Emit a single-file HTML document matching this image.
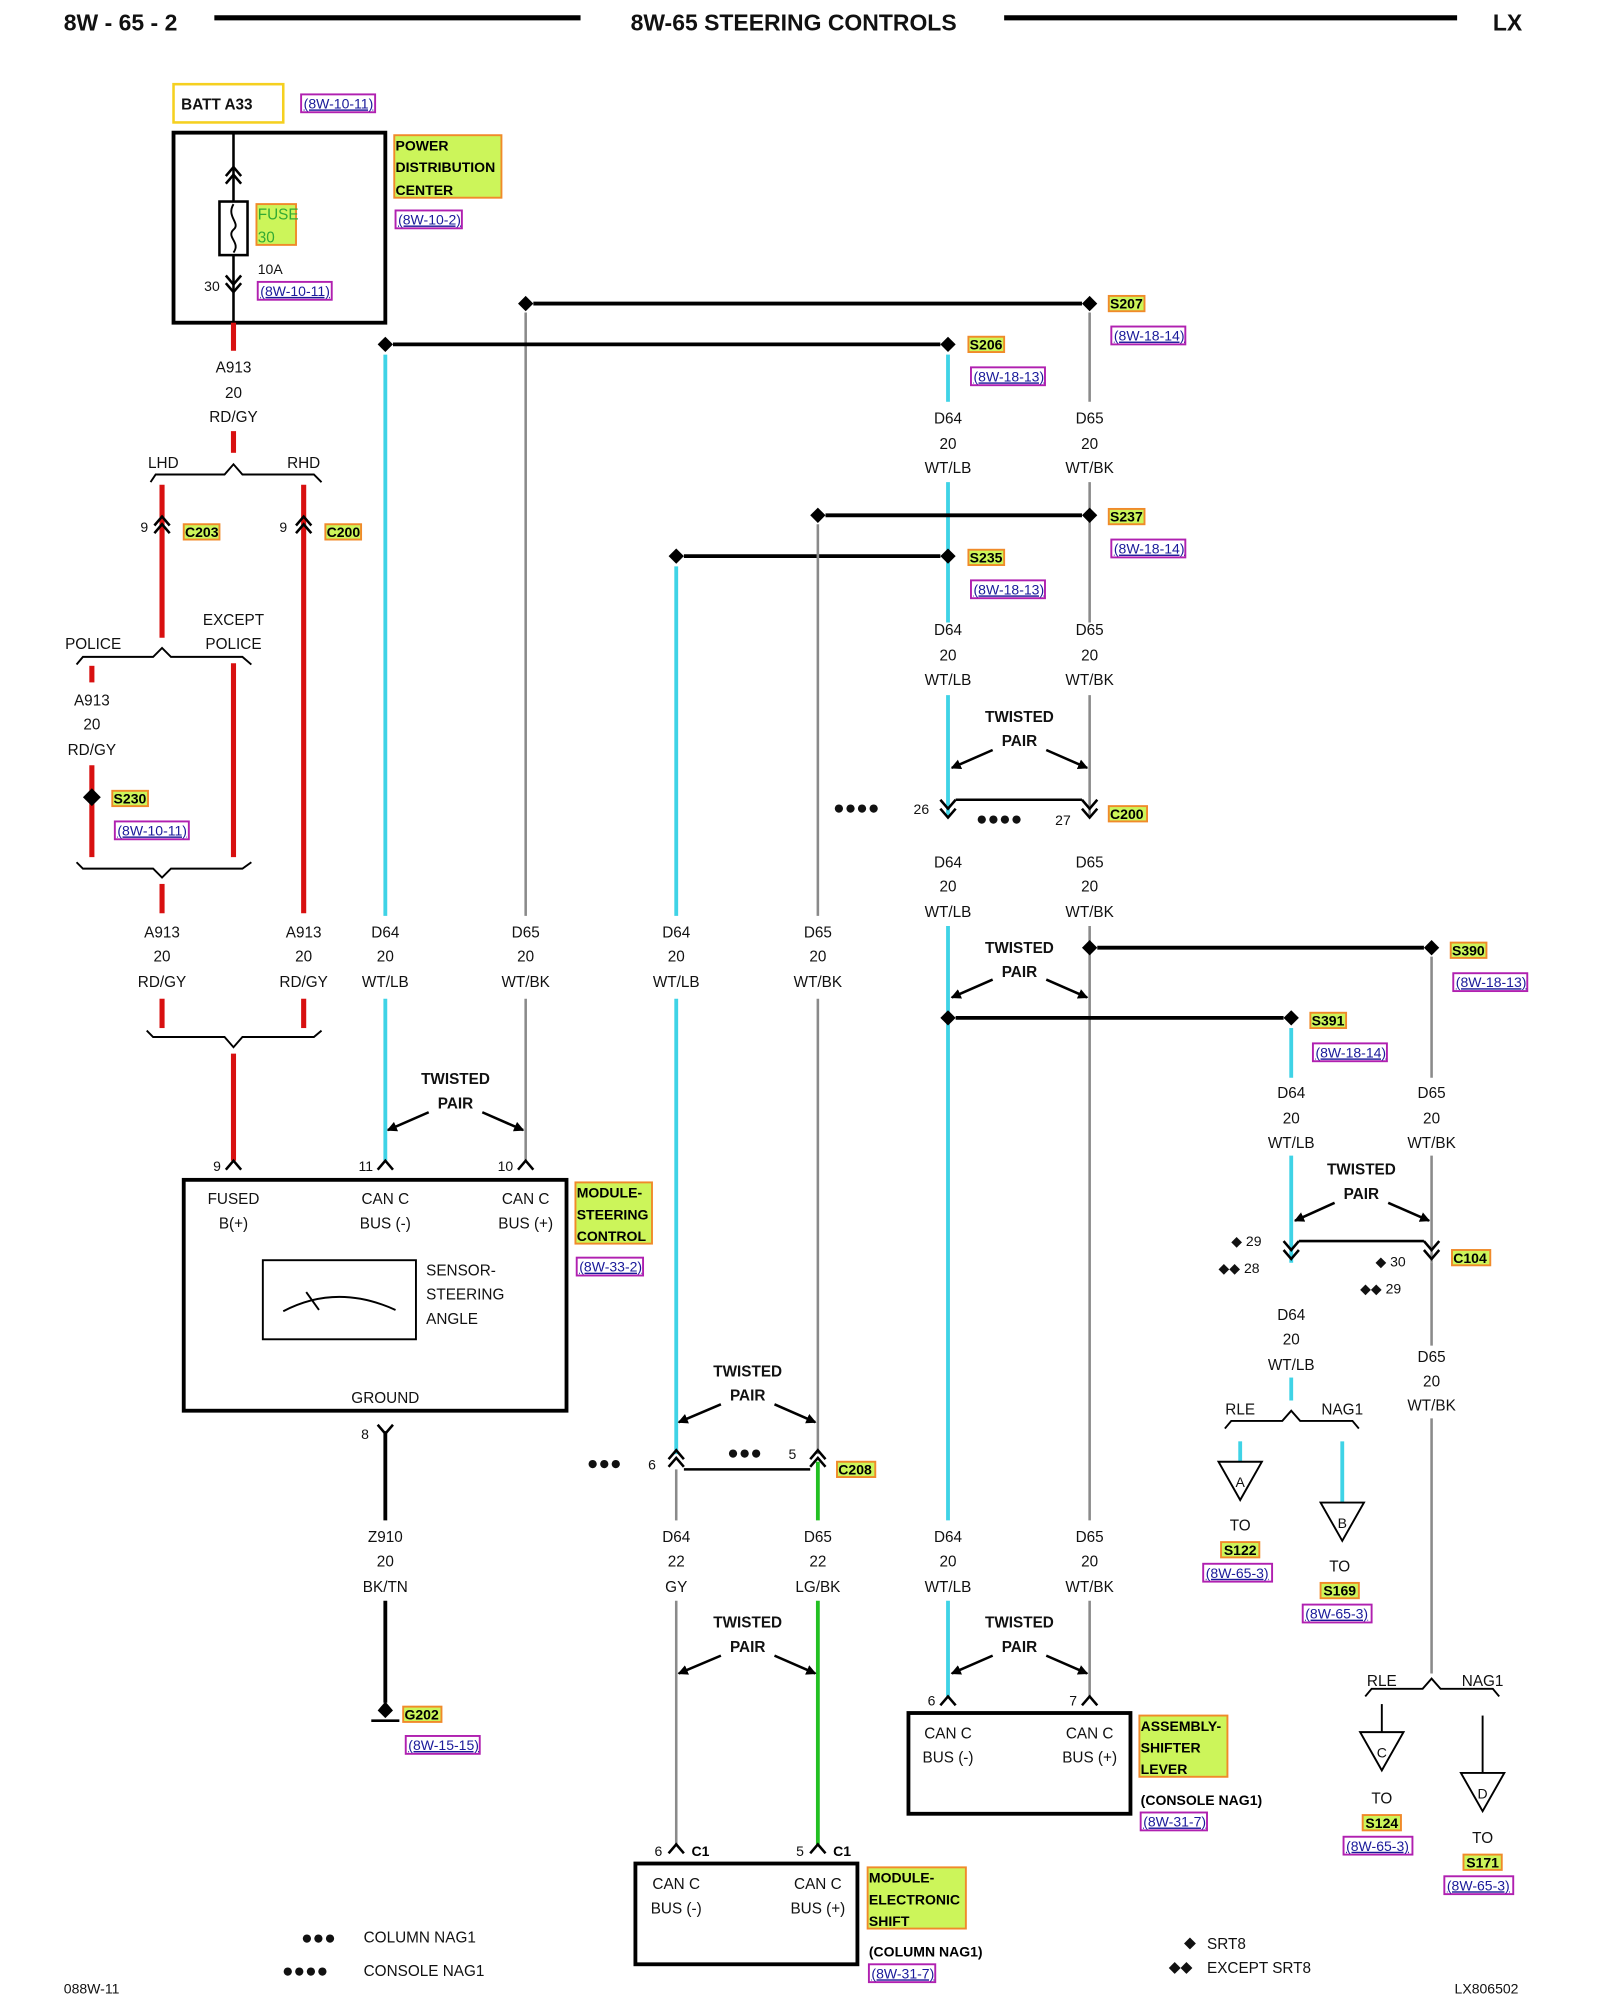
<!DOCTYPE html>
<html><head><meta charset="utf-8"><style>
html,body{margin:0;padding:0;background:#fff;}
svg{display:block;}
text{font-family:"Liberation Sans",Arial,sans-serif;font-size:12px;fill:#111;}
.b{font-weight:bold;}
.m{text-anchor:middle;}
.ref{font-size:11px;fill:#1a1a9a;text-decoration:underline;}
.lab{font-size:11px;font-weight:bold;fill:#000;}
.cy{stroke:#3fd3e6;stroke-width:3;fill:none;}
.rd{stroke:#d81010;stroke-width:4;fill:none;}
.gy{stroke:#8a8a8a;stroke-width:2;fill:none;}
.gn{stroke:#22c022;stroke-width:3;fill:none;}
.bk{stroke:#000;stroke-width:3;fill:none;}
.ln{stroke:#000;stroke-width:2;fill:none;}
.th{stroke:#000;stroke-width:1.5;fill:none;}
.lb{fill:#ccf55a;stroke:#f08a2a;stroke-width:1.5;}
.rb{fill:#fff;stroke:#b020b0;stroke-width:1.5;}
</style></head><body>
<svg width="1600" height="2000" viewBox="0 0 1254 1568" preserveAspectRatio="none" xmlns="http://www.w3.org/2000/svg">
<defs>
<marker id="ah" markerWidth="8" markerHeight="8" refX="7" refY="4" orient="auto" markerUnits="userSpaceOnUse"><path d="M0,0 L8,4 L0,8 Z" fill="#000"/></marker>
</defs>
<!-- header -->
<text x="50" y="24" class="b" style="font-size:18px">8W - 65 - 2</text>
<line x1="168" y1="14" x2="455" y2="14" stroke="#000" stroke-width="4"/>
<text x="622" y="24" class="b m" style="font-size:18px">8W-65 STEERING CONTROLS</text>
<line x1="787" y1="14" x2="1142" y2="14" stroke="#000" stroke-width="4"/>
<text x="1170" y="24" class="b" style="font-size:18px">LX</text>

<!-- BATT / PDC -->
<rect x="136" y="66" width="86" height="30" fill="none" stroke="#f5d020" stroke-width="2"/>
<text x="142" y="86" class="b" style="font-size:12px">BATT A33</text>
<rect x="236" y="74" width="58" height="14" class="rb"/><text x="238" y="85" class="ref">(8W-10-11)</text>
<rect x="136" y="104" width="166" height="149" fill="none" stroke="#000" stroke-width="3"/>
<line x1="183" y1="104" x2="183" y2="253" class="ln"/>
<polyline points="177,138 183,131 189,138" class="ln"/><polyline points="177,144 183,137 189,144" class="ln"/>
<rect x="172" y="158" width="22" height="42" fill="#fff" stroke="#000" stroke-width="2"/>
<path d="M183,160 C177,170 189,175 183,180 C177,186 189,190 183,198" class="th"/>
<rect x="201" y="160" width="31" height="32" class="lb"/>
<text x="202" y="172" style="font-size:12px;fill:#3a3;">FUSE</text><text x="202" y="190" style="font-size:12px;fill:#3a3;">30</text>
<text x="202" y="215" style="font-size:11px">10A</text>
<text x="160" y="228" style="font-size:11px">30</text>
<polyline points="177,216 183,223 189,216" class="ln"/><polyline points="177,222 183,229 189,222" class="ln"/>
<rect x="202" y="221" width="58" height="14" class="rb"/><text x="204" y="232" class="ref">(8W-10-11)</text>
<rect x="309" y="106" width="84" height="49" class="lb"/>
<text x="310" y="118" class="lab">POWER</text><text x="310" y="135" class="lab">DISTRIBUTION</text><text x="310" y="153" class="lab">CENTER</text>
<rect x="310" y="165" width="52" height="14" class="rb"/><text x="312" y="176" class="ref">(8W-10-2)</text>

<!-- left red tree -->
<line x1="183" y1="253" x2="183" y2="275" class="rd"/>
<text x="183" y="292" class="m">A913</text><text x="183" y="312" class="m">20</text><text x="183" y="331" class="m">RD/GY</text>
<line x1="183" y1="338" x2="183" y2="355" class="rd"/>
<path d="M118,378 L122,372 L176,372 L183,364 L190,372 L246,372 L252,378" class="th"/>
<text x="128" y="367" class="m">LHD</text><text x="238" y="367" class="m">RHD</text>
<line x1="127" y1="380" x2="127" y2="500" class="rd"/>
<line x1="238" y1="380" x2="238" y2="716" class="rd"/>
<polyline points="121,412 127,405 133,412" class="ln"/><polyline points="121,418 127,411 133,418" class="ln"/>
<polyline points="232,412 238,405 244,412" class="ln"/><polyline points="232,418 238,411 244,418" class="ln"/>
<text x="110" y="417" style="font-size:11px">9</text><text x="219" y="417" style="font-size:11px">9</text>
<rect x="144" y="411" width="28" height="12" class="lb"/><text x="145" y="421" class="lab">C203</text>
<rect x="255" y="411" width="28" height="12" class="lb"/><text x="256" y="421" class="lab">C200</text>
<path d="M60,521 L65,515 L120,515 L127,508 L134,515 L190,515 L197,521" class="th"/>
<text x="73" y="509" class="m">POLICE</text><text x="183" y="490" class="m">EXCEPT</text><text x="183" y="509" class="m">POLICE</text>
<line x1="72" y1="522" x2="72" y2="535" class="rd"/>
<text x="72" y="553" class="m">A913</text><text x="72" y="572" class="m">20</text><text x="72" y="592" class="m">RD/GY</text>
<line x1="72" y1="600" x2="72" y2="672" class="rd"/>
<path d="M72,618 L79,625 L72,632 L65,625 Z" fill="#000"/>
<rect x="88" y="620" width="28" height="12" class="lb"/><text x="89" y="630" class="lab">S230</text>
<rect x="90" y="644" width="58" height="14" class="rb"/><text x="92" y="655" class="ref">(8W-10-11)</text>
<line x1="183" y1="520" x2="183" y2="672" class="rd"/>
<path d="M60,676 L65,681 L120,681 L127,688 L134,681 L190,681 L197,676" class="th"/>
<line x1="127" y1="693" x2="127" y2="716" class="rd"/>

<!-- row labels y 734 -->
<text x="127" y="735" class="m">A913</text><text x="127" y="754" class="m">20</text><text x="127" y="774" class="m">RD/GY</text>
<text x="238" y="735" class="m">A913</text><text x="238" y="754" class="m">20</text><text x="238" y="774" class="m">RD/GY</text>
<text x="302" y="735" class="m">D64</text><text x="302" y="754" class="m">20</text><text x="302" y="774" class="m">WT/LB</text>
<text x="412" y="735" class="m">D65</text><text x="412" y="754" class="m">20</text><text x="412" y="774" class="m">WT/BK</text>
<text x="530" y="735" class="m">D64</text><text x="530" y="754" class="m">20</text><text x="530" y="774" class="m">WT/LB</text>
<text x="641" y="735" class="m">D65</text><text x="641" y="754" class="m">20</text><text x="641" y="774" class="m">WT/BK</text>
<line x1="127" y1="783" x2="127" y2="806" class="rd"/><line x1="238" y1="783" x2="238" y2="806" class="rd"/>
<path d="M115,808 L120,813 L176,813 L183,821 L190,813 L246,813 L252,808" class="th"/>
<line x1="183" y1="826" x2="183" y2="910" class="rd"/>

<!-- top buses -->
<line x1="302" y1="278" x2="302" y2="718" class="cy"/><line x1="302" y1="783" x2="302" y2="910" class="cy"/>
<line x1="412" y1="245" x2="412" y2="718" class="gy"/><line x1="412" y1="783" x2="412" y2="910" class="gy"/>
<line x1="308" y1="270" x2="737" y2="270" class="bk"/>
<path d="M302,264 L308,270 L302,276 L296,270 Z" fill="#000"/><path d="M743,264 L749,270 L743,276 L737,270 Z" fill="#000"/>
<line x1="418" y1="238" x2="848" y2="238" class="bk"/>
<path d="M412,232 L418,238 L412,244 L406,238 Z" fill="#000"/><path d="M854,232 L860,238 L854,244 L848,238 Z" fill="#000"/>
<rect x="869" y="232" width="28" height="12" class="lb"/><text x="870" y="242" class="lab">S207</text>
<rect x="871" y="256" width="58" height="14" class="rb"/><text x="873" y="267" class="ref">(8W-18-14)</text>
<rect x="759" y="264" width="28" height="12" class="lb"/><text x="760" y="274" class="lab">S206</text>
<rect x="761" y="288" width="58" height="14" class="rb"/><text x="763" y="299" class="ref">(8W-18-13)</text>
<line x1="743" y1="278" x2="743" y2="315" class="cy"/><line x1="854" y1="245" x2="854" y2="315" class="gy"/>
<text x="743" y="332" class="m">D64</text><text x="743" y="352" class="m">20</text><text x="743" y="371" class="m">WT/LB</text>
<text x="854" y="332" class="m">D65</text><text x="854" y="352" class="m">20</text><text x="854" y="371" class="m">WT/BK</text>
<line x1="743" y1="378" x2="743" y2="488" class="cy"/><line x1="854" y1="378" x2="854" y2="488" class="gy"/>
<line x1="647" y1="404" x2="848" y2="404" class="bk"/>
<path d="M641,398 L647,404 L641,410 L635,404 Z" fill="#000"/><path d="M854,398 L860,404 L854,410 L848,404 Z" fill="#000"/>
<line x1="536" y1="436" x2="737" y2="436" class="bk"/>
<path d="M530,430 L536,436 L530,442 L524,436 Z" fill="#000"/><path d="M743,430 L749,436 L743,442 L737,436 Z" fill="#000"/>
<rect x="869" y="399" width="28" height="12" class="lb"/><text x="870" y="409" class="lab">S237</text>
<rect x="871" y="423" width="58" height="14" class="rb"/><text x="873" y="434" class="ref">(8W-18-14)</text>
<rect x="759" y="431" width="28" height="12" class="lb"/><text x="760" y="441" class="lab">S235</text>
<rect x="761" y="455" width="58" height="14" class="rb"/><text x="763" y="466" class="ref">(8W-18-13)</text>
<text x="743" y="498" class="m">D64</text><text x="743" y="518" class="m">20</text><text x="743" y="537" class="m">WT/LB</text>
<text x="854" y="498" class="m">D65</text><text x="854" y="518" class="m">20</text><text x="854" y="537" class="m">WT/BK</text>
<line x1="743" y1="545" x2="743" y2="640" class="cy"/><line x1="854" y1="545" x2="854" y2="640" class="gy"/>
<text x="799" y="566" class="b m">TWISTED</text><text x="799" y="585" class="b m">PAIR</text>
<line x1="778" y1="588" x2="746" y2="602" class="ln" marker-end="url(#ah)"/>
<line x1="820" y1="588" x2="852" y2="602" class="ln" marker-end="url(#ah)"/>
<line x1="749" y1="627" x2="848" y2="627" class="ln"/>
<polyline points="737,627 743,634 749,627" class="ln"/><polyline points="737,634 743,641 749,634" class="ln"/>
<polyline points="848,627 854,634 860,627" class="ln"/><polyline points="848,634 854,641 860,634" class="ln"/>
<text x="653" y="638" style="font-size:15px">●●●●</text><text x="716" y="638" style="font-size:11px">26</text>
<text x="765" y="647" style="font-size:15px">●●●●</text><text x="827" y="647" style="font-size:11px">27</text>
<rect x="869" y="632" width="30" height="12" class="lb"/><text x="870" y="642" class="lab">C200</text>
<text x="743" y="680" class="m">D64</text><text x="743" y="699" class="m">20</text><text x="743" y="719" class="m">WT/LB</text>
<text x="854" y="680" class="m">D65</text><text x="854" y="699" class="m">20</text><text x="854" y="719" class="m">WT/BK</text>
<line x1="743" y1="726" x2="743" y2="1192" class="cy"/><line x1="854" y1="726" x2="854" y2="1192" class="gy"/>
<text x="799" y="747" class="b m">TWISTED</text><text x="799" y="766" class="b m">PAIR</text>
<line x1="778" y1="768" x2="746" y2="782" class="ln" marker-end="url(#ah)"/>
<line x1="820" y1="768" x2="852" y2="782" class="ln" marker-end="url(#ah)"/>
<line x1="860" y1="743" x2="1116" y2="743" class="bk"/>
<path d="M854,737 L860,743 L854,749 L848,743 Z" fill="#000"/><path d="M1122,737 L1128,743 L1122,749 L1116,743 Z" fill="#000"/>
<rect x="1137" y="739" width="28" height="12" class="lb"/><text x="1138" y="749" class="lab">S390</text>
<rect x="1139" y="763" width="58" height="14" class="rb"/><text x="1141" y="774" class="ref">(8W-18-13)</text>
<line x1="749" y1="798" x2="1006" y2="798" class="bk"/>
<path d="M743,792 L749,798 L743,804 L737,798 Z" fill="#000"/><path d="M1012,792 L1018,798 L1012,804 L1006,798 Z" fill="#000"/>
<rect x="1027" y="794" width="28" height="12" class="lb"/><text x="1028" y="804" class="lab">S391</text>
<rect x="1029" y="818" width="58" height="14" class="rb"/><text x="1031" y="829" class="ref">(8W-18-14)</text>

<!-- right branch -->
<line x1="1122" y1="750" x2="1122" y2="845" class="gy"/><line x1="1012" y1="806" x2="1012" y2="845" class="cy"/>
<text x="1012" y="861" class="m">D64</text><text x="1012" y="881" class="m">20</text><text x="1012" y="900" class="m">WT/LB</text>
<text x="1122" y="861" class="m">D65</text><text x="1122" y="881" class="m">20</text><text x="1122" y="900" class="m">WT/BK</text>
<line x1="1012" y1="906" x2="1012" y2="990" class="cy"/><line x1="1122" y1="906" x2="1122" y2="990" class="gy"/>
<text x="1067" y="921" class="b m">TWISTED</text><text x="1067" y="940" class="b m">PAIR</text>
<line x1="1046" y1="943" x2="1015" y2="957" class="ln" marker-end="url(#ah)"/>
<line x1="1088" y1="943" x2="1120" y2="957" class="ln" marker-end="url(#ah)"/>
<line x1="1018" y1="973" x2="1116" y2="973" class="ln"/>
<polyline points="1006,973 1012,980 1018,973" class="ln"/><polyline points="1006,980 1012,987 1018,980" class="ln"/>
<polyline points="1116,973 1122,980 1128,973" class="ln"/><polyline points="1116,980 1122,987 1128,980" class="ln"/>
<text x="965" y="977" style="font-size:11px">◆ 29</text><text x="955" y="998" style="font-size:11px">◆◆ 28</text>
<text x="1078" y="993" style="font-size:11px">◆ 30</text><text x="1066" y="1014" style="font-size:11px">◆◆ 29</text>
<rect x="1138" y="980" width="30" height="12" class="lb"/><text x="1139" y="990" class="lab">C104</text>
<text x="1012" y="1035" class="m">D64</text><text x="1012" y="1054" class="m">20</text><text x="1012" y="1074" class="m">WT/LB</text>
<line x1="1012" y1="1080" x2="1012" y2="1098" class="cy"/>
<path d="M960,1120 L965,1114 L1005,1114 L1012,1106 L1019,1114 L1060,1114 L1065,1120" class="th"/>
<text x="972" y="1109" class="m">RLE</text><text x="1052" y="1109" class="m">NAG1</text>
<text x="1122" y="1068" class="m">D65</text><text x="1122" y="1087" class="m">20</text><text x="1122" y="1106" class="m">WT/BK</text>
<line x1="1122" y1="990" x2="1122" y2="1055" class="gy"/><line x1="1122" y1="1112" x2="1122" y2="1312" class="gy"/>
<line x1="972" y1="1130" x2="972" y2="1146" class="cy"/>
<path d="M955,1146 L989,1146 L972,1176 Z" class="th" fill="#fff"/><text x="972" y="1166" class="m" style="font-size:11px">A</text>
<text x="972" y="1200" class="m">TO</text>
<rect x="957" y="1209" width="30" height="12" class="lb"/><text x="972" y="1219" class="lab m">S122</text>
<rect x="943" y="1226" width="54" height="14" class="rb"/><text x="945" y="1237" class="ref">(8W-65-3)</text>
<line x1="1052" y1="1130" x2="1052" y2="1178" class="cy"/>
<path d="M1035,1178 L1069,1178 L1052,1208 Z" class="th" fill="#fff"/><text x="1052" y="1198" class="m" style="font-size:11px">B</text>
<text x="1050" y="1232" class="m">TO</text>
<rect x="1035" y="1241" width="30" height="12" class="lb"/><text x="1050" y="1251" class="lab m">S169</text>
<rect x="1021" y="1258" width="54" height="14" class="rb"/><text x="1023" y="1269" class="ref">(8W-65-3)</text>
<path d="M1070,1330 L1075,1324 L1115,1324 L1122,1316 L1129,1324 L1170,1324 L1175,1330" class="th"/>
<text x="1083" y="1322" class="m">RLE</text><text x="1162" y="1322" class="m">NAG1</text>
<line x1="1083" y1="1336" x2="1083" y2="1358" class="th"/>
<path d="M1066,1358 L1100,1358 L1083,1388 Z" class="th" fill="#fff"/><text x="1083" y="1378" class="m" style="font-size:11px">C</text>
<text x="1083" y="1414" class="m">TO</text>
<rect x="1068" y="1423" width="30" height="12" class="lb"/><text x="1083" y="1433" class="lab m">S124</text>
<rect x="1053" y="1440" width="54" height="14" class="rb"/><text x="1055" y="1451" class="ref">(8W-65-3)</text>
<line x1="1162" y1="1345" x2="1162" y2="1390" class="th"/>
<path d="M1145,1390 L1179,1390 L1162,1420 Z" class="th" fill="#fff"/><text x="1162" y="1410" class="m" style="font-size:11px">D</text>
<text x="1162" y="1445" class="m">TO</text>
<rect x="1147" y="1454" width="30" height="12" class="lb"/><text x="1162" y="1464" class="lab m">S171</text>
<rect x="1132" y="1471" width="54" height="14" class="rb"/><text x="1134" y="1482" class="ref">(8W-65-3)</text>

<!-- middle column 530/641 -->
<line x1="530" y1="444" x2="530" y2="718" class="cy"/><line x1="530" y1="783" x2="530" y2="1140" class="cy"/>
<line x1="641" y1="411" x2="641" y2="718" class="gy"/><line x1="641" y1="783" x2="641" y2="1140" class="gy"/>
<text x="586" y="1079" class="b m">TWISTED</text><text x="586" y="1098" class="b m">PAIR</text>
<line x1="565" y1="1101" x2="532" y2="1115" class="ln" marker-end="url(#ah)"/>
<line x1="607" y1="1101" x2="639" y2="1115" class="ln" marker-end="url(#ah)"/>
<polyline points="524,1144 530,1137 536,1144" class="ln"/><polyline points="524,1150 530,1143 536,1150" class="ln"/>
<polyline points="635,1144 641,1137 647,1144" class="ln"/><polyline points="635,1150 641,1143 647,1150" class="ln"/>
<line x1="536" y1="1152" x2="635" y2="1152" class="ln"/>
<text x="460" y="1152" style="font-size:15px">●●●</text><text x="508" y="1152" style="font-size:11px">6</text>
<text x="570" y="1144" style="font-size:15px">●●●</text><text x="618" y="1144" style="font-size:11px">5</text>
<rect x="656" y="1146" width="30" height="12" class="lb"/><text x="657" y="1156" class="lab">C208</text>
<line x1="530" y1="1152" x2="530" y2="1192" class="gy"/><line x1="641" y1="1146" x2="641" y2="1192" class="gn"/>
<text x="530" y="1209" class="m">D64</text><text x="530" y="1228" class="m">22</text><text x="530" y="1248" class="m">GY</text>
<text x="641" y="1209" class="m">D65</text><text x="641" y="1228" class="m">22</text><text x="641" y="1248" class="m">LG/BK</text>
<text x="743" y="1209" class="m">D64</text><text x="743" y="1228" class="m">20</text><text x="743" y="1248" class="m">WT/LB</text>
<text x="854" y="1209" class="m">D65</text><text x="854" y="1228" class="m">20</text><text x="854" y="1248" class="m">WT/BK</text>
<line x1="530" y1="1255" x2="530" y2="1446" class="gy"/><line x1="641" y1="1255" x2="641" y2="1446" class="gn"/>
<text x="586" y="1276" class="b m">TWISTED</text><text x="586" y="1295" class="b m">PAIR</text>
<line x1="565" y1="1298" x2="532" y2="1312" class="ln" marker-end="url(#ah)"/>
<line x1="607" y1="1298" x2="639" y2="1312" class="ln" marker-end="url(#ah)"/>
<polyline points="524,1453 530,1446 536,1453" class="ln"/><polyline points="635,1453 641,1446 647,1453" class="ln"/>
<text x="513" y="1455" style="font-size:11px">6</text><text x="542" y="1455" class="lab">C1</text>
<text x="624" y="1455" style="font-size:11px">5</text><text x="653" y="1455" class="lab">C1</text>
<rect x="498" y="1461" width="174" height="79" fill="none" stroke="#000" stroke-width="3"/>
<text x="530" y="1481" class="m">CAN C</text><text x="530" y="1500" class="m">BUS (-)</text>
<text x="641" y="1481" class="m">CAN C</text><text x="641" y="1500" class="m">BUS (+)</text>
<rect x="680" y="1464" width="77" height="48" class="lb"/>
<text x="681" y="1476" class="lab">MODULE-</text><text x="681" y="1493" class="lab">ELECTRONIC</text><text x="681" y="1510" class="lab">SHIFT</text>
<text x="681" y="1534" class="lab">(COLUMN NAG1)</text>
<rect x="681" y="1540" width="52" height="14" class="rb"/><text x="683" y="1551" class="ref">(8W-31-7)</text>

<!-- 743/854 bottom -->
<line x1="743" y1="1255" x2="743" y2="1330" class="cy"/><line x1="854" y1="1255" x2="854" y2="1330" class="gy"/>
<text x="799" y="1276" class="b m">TWISTED</text><text x="799" y="1295" class="b m">PAIR</text>
<line x1="778" y1="1298" x2="746" y2="1312" class="ln" marker-end="url(#ah)"/>
<line x1="820" y1="1298" x2="852" y2="1312" class="ln" marker-end="url(#ah)"/>
<polyline points="737,1337 743,1330 749,1337" class="ln"/><polyline points="848,1337 854,1330 860,1337" class="ln"/>
<text x="727" y="1337" style="font-size:11px">6</text><text x="838" y="1337" style="font-size:11px">7</text>
<rect x="712" y="1343" width="174" height="79" fill="none" stroke="#000" stroke-width="3"/>
<text x="743" y="1363" class="m">CAN C</text><text x="743" y="1382" class="m">BUS (-)</text>
<text x="854" y="1363" class="m">CAN C</text><text x="854" y="1382" class="m">BUS (+)</text>
<rect x="893" y="1345" width="69" height="48" class="lb"/>
<text x="894" y="1357" class="lab">ASSEMBLY-</text><text x="894" y="1374" class="lab">SHIFTER</text><text x="894" y="1391" class="lab">LEVER</text>
<text x="894" y="1415" class="lab">(CONSOLE NAG1)</text>
<rect x="894" y="1421" width="52" height="14" class="rb"/><text x="896" y="1432" class="ref">(8W-31-7)</text>

<!-- steering module -->
<text x="357" y="850" class="b m">TWISTED</text><text x="357" y="869" class="b m">PAIR</text>
<line x1="336" y1="872" x2="304" y2="886" class="ln" marker-end="url(#ah)"/>
<line x1="378" y1="872" x2="410" y2="886" class="ln" marker-end="url(#ah)"/>
<polyline points="177,917 183,910 189,917" class="ln"/><polyline points="296,917 302,910 308,917" class="ln"/><polyline points="406,917 412,910 418,917" class="ln"/>
<text x="167" y="918" style="font-size:11px">9</text><text x="281" y="918" style="font-size:11px">11</text><text x="390" y="918" style="font-size:11px">10</text>
<rect x="144" y="925" width="300" height="181" fill="none" stroke="#000" stroke-width="3"/>
<text x="183" y="944" class="m">FUSED</text><text x="183" y="963" class="m">B(+)</text>
<text x="302" y="944" class="m">CAN C</text><text x="302" y="963" class="m">BUS (-)</text>
<text x="412" y="944" class="m">CAN C</text><text x="412" y="963" class="m">BUS (+)</text>
<rect x="206" y="988" width="120" height="62" fill="none" stroke="#000" stroke-width="1.5"/>
<path d="M222,1028 Q264,1006 310,1027" class="th"/><line x1="240" y1="1013" x2="250" y2="1027" class="th"/>
<text x="334" y="1000">SENSOR-</text><text x="334" y="1019">STEERING</text><text x="334" y="1038">ANGLE</text>
<text x="302" y="1100" class="m">GROUND</text>
<rect x="451" y="927" width="60" height="48" class="lb"/>
<text x="452" y="939" class="lab">MODULE-</text><text x="452" y="956" class="lab">STEERING</text><text x="452" y="973" class="lab">CONTROL</text>
<rect x="452" y="986" width="52" height="14" class="rb"/><text x="454" y="997" class="ref">(8W-33-2)</text>
<polyline points="296,1117 302,1124 308,1117" class="ln"/>
<text x="283" y="1128" style="font-size:11px">8</text>
<line x1="302" y1="1122" x2="302" y2="1192" class="bk"/>
<text x="302" y="1209" class="m">Z910</text><text x="302" y="1228" class="m">20</text><text x="302" y="1248" class="m">BK/TN</text>
<line x1="302" y1="1255" x2="302" y2="1335" class="bk"/>
<path d="M302,1334 L308,1341 L302,1347 L296,1341 Z" fill="#000"/>
<line x1="291" y1="1349" x2="313" y2="1349" class="ln"/>
<rect x="316" y="1338" width="30" height="12" class="lb"/><text x="317" y="1348" class="lab">G202</text>
<rect x="318" y="1361" width="58" height="14" class="rb"/><text x="320" y="1372" class="ref">(8W-15-15)</text>

<!-- legend -->
<text x="236" y="1524" style="font-size:15px">●●●</text><text x="285" y="1523">COLUMN NAG1</text>
<text x="221" y="1550" style="font-size:15px">●●●●</text><text x="285" y="1549">CONSOLE NAG1</text>
<text x="928" y="1527">◆</text><text x="946" y="1528">SRT8</text>
<text x="916" y="1546">◆◆</text><text x="946" y="1547">EXCEPT SRT8</text>
<text x="50" y="1563" style="font-size:11px">088W-11</text>
<text x="1140" y="1563" style="font-size:11px">LX806502</text>
</svg>
</body></html>
